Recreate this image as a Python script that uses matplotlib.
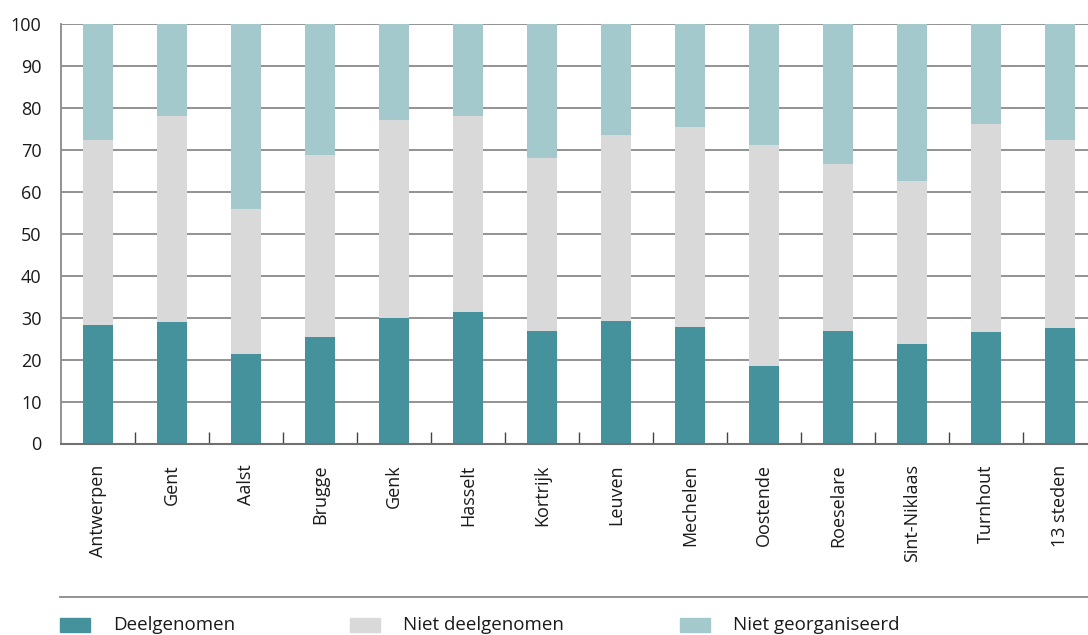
import matplotlib
matplotlib.use('Agg')
import matplotlib.pyplot as plt
from matplotlib.patches import Rectangle
from matplotlib.lines import Line2D
import numpy as np

steden = ['Antwerpen', 'Gent', 'Aalst', 'Brugge', 'Genk', 'Hasselt', 'Kortrijk',
          'Leuven', 'Mechelen', 'Oostende', 'Roeselare', 'Sint-Niklaas', 'Turnhout', '13 steden']
deelgenomen = [28.3, 29.0, 21.4, 25.4, 30.0, 31.4, 26.9, 29.2, 27.8, 18.5, 26.9, 23.8, 26.6, 27.6]
niet_deelgenomen = [44.1, 49.1, 34.5, 43.3, 47.1, 46.7, 41.2, 44.4, 47.7, 52.7, 39.7, 38.8, 49.6, 44.8]
niet_georganiseerd = [100 - a - b for a, b in zip(deelgenomen, niet_deelgenomen)]

reeksen = ['Deelgenomen', 'Niet deelgenomen', 'Niet georganiseerd']
kleuren = ['#45929d', '#d9d9d9', '#a3c9cd']

plt.rcParams['font.family'] = ['Open Sans', 'DejaVu Sans']

fig = plt.figure(figsize=(10.88, 6.35), dpi=100)
ax = fig.add_axes([61 / 1088, 1 - 443.5 / 635, 1036 / 1088, 419.5 / 635])

x = np.arange(len(steden))
breedte = 0.405
onder = np.zeros(len(steden))
for waarden, kleur in zip([deelgenomen, niet_deelgenomen, niet_georganiseerd], kleuren):
    ax.bar(x, waarden, breedte, bottom=onder, color=kleur, zorder=3)
    onder += np.array(waarden)

ax.set_xlim(-0.5, len(steden) - 0.5)
ax.set_ylim(0, 100)
ax.set_yticks(np.arange(0, 101, 10))
ax.yaxis.grid(True, color='#8a8a8a', linewidth=1.3, zorder=0)
ax.set_axisbelow(True)
for s in ['top', 'right']:
    ax.spines[s].set_visible(False)
ax.spines['left'].set_color('#8a8a8a')
ax.spines['left'].set_linewidth(1.3)
ax.spines['bottom'].set_color('#707070')
ax.spines['bottom'].set_linewidth(1.5)
ax.spines['bottom'].set_zorder(4)

ax.set_xticks(x)
ax.set_xticklabels(steden, rotation=90, fontsize=13, color='#1a1a1a')
ax.set_xticks(np.arange(0.5, len(steden) - 1, 1), minor=True)
ax.tick_params(axis='x', which='major', length=0, pad=15)
ax.tick_params(axis='x', which='minor', direction='in', length=8.5, width=1, color='#444444')
ax.tick_params(axis='y', length=0, pad=14, labelsize=13, labelcolor='#1a1a1a')

# legenda onderaan
fig.add_artist(Line2D([60 / 1088, 1.0], [1 - 597 / 635] * 2, color='#8a8a8a', linewidth=1.3))
posities = [60, 350, 680]
for naam, kleur, px in zip(reeksen, kleuren, posities):
    fig.add_artist(Rectangle((px / 1088, 1 - 632 / 635), 30 / 1088, 14 / 635, color=kleur))
    fig.text((px + 53) / 1088, 1 - 625 / 635, naam, fontsize=13.5, color='#1a1a1a', va='center')

fig.savefig('out.png', dpi=100)
